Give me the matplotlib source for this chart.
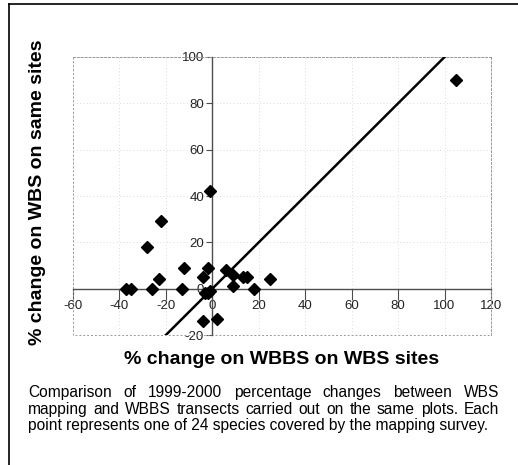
import matplotlib
matplotlib.use("Agg")
import matplotlib.pyplot as plt
from matplotlib.lines import Line2D

plt.rcParams['font.family'] = ['Liberation Sans', 'DejaVu Sans']
plt.rcParams['axes.unicode_minus'] = False

# % change on WBBS (x) vs % change on WBS mapping (y), one point per species
wbbs_change = [-1, -22, -28, -12, -23, -37, -35, -26, -13, -4, -2, -3,
               -1, -4, 2, 6, 9, 9, 13, 15, 18, 25, -2, 105]
wbs_change = [42, 29, 18, 9, 4, 0, 0, 0, 0, 5, 9, -2,
              -1, -14, -13, 8, 6, 1, 5, 5, 0, 4, -2, 90]
line_x = [-20, 100]  # line of equality
line_y = [-20, 100]
x_ticks = [-60, -40, -20, 0, 20, 40, 60, 80, 100, 120]
y_ticks = [-20, 0, 20, 40, 60, 80, 100]
caption = ["Comparison of 1999-2000 percentage changes between WBS",
           "mapping and WBBS transects carried out on the same plots.  Each",
           "point represents one of 24 species covered by the mapping survey."]

W, H = 518, 465
fig = plt.figure(figsize=(W / 100, H / 100), dpi=100)
ax = fig.add_axes([73 / W, 1 - 335 / H, (491 - 73) / W, (335 - 57) / H])

ax.set_xlim(-60, 120)
ax.set_ylim(-20, 100)
ax.grid(True, color='0.82', linestyle=(0, (1, 3)), linewidth=0.6)
ax.set_axisbelow(True)

ax.spines['left'].set_position(('data', 0))
ax.spines['bottom'].set_position(('data', 0))
for s in ['left', 'bottom']:
    ax.spines[s].set_color('0.3')
    ax.spines[s].set_linewidth(1.0)
for s in ['top', 'right']:
    ax.spines[s].set_color('0.6')
    ax.spines[s].set_linestyle((0, (2, 2)))
    ax.spines[s].set_linewidth(0.7)
# dotted frame on the far left / bottom of the plot area
ax.plot([-60, -60, 120], [100, -20, -20], color='0.6', lw=0.7,
        ls=(0, (2, 2)), clip_on=False, zorder=1)

ax.set_xticks(x_ticks)
ax.set_yticks(y_ticks)
ax.tick_params(axis='x', direction='out', length=8, width=0.8, color='0.3',
               pad=0, labelsize=9.5, labelcolor='#222')
ax.tick_params(axis='y', direction='out', length=4, width=0.8, color='0.3',
               pad=2, labelsize=9.5, labelcolor='#222')

ax.plot(line_x, line_y, color='black', lw=1.8, zorder=3)
ax.plot(wbbs_change, wbs_change, 'D', color='black', markersize=6, zorder=4)

fig.text(38 / W, 1 - 192 / H, '% change on WBS on same sites', rotation=90,
         ha='center', va='center', fontsize=14, fontweight='bold')
fig.text(282 / W, 1 - 360 / H, '% change on WBBS on WBS sites',
         ha='center', va='center', fontsize=14, fontweight='bold')

# justified caption, words placed on a common baseline
renderer = fig.canvas.get_renderer()
left, right = 28, 499
baselines = [397, 414, 430]
cap_size = 11.2
for i, line in enumerate(caption):
    words = line.split()
    y = 1 - baselines[i] / H
    if i == len(caption) - 1:
        fig.text(left / W, y, line, ha='left', va='baseline', fontsize=cap_size)
        continue
    texts = [fig.text(0, y, w, ha='left', va='baseline', fontsize=cap_size) for w in words]
    widths = [t.get_window_extent(renderer).width for t in texts]
    gap = (right - left - sum(widths)) / (len(words) - 1)
    x = left
    for t, w in zip(texts, widths):
        t.set_x(x / W)
        x += w + gap

# page border (top and left)
fig.add_artist(Line2D([9 / W, 1], [1 - 4 / H, 1 - 4 / H], color='black', lw=1.2))
fig.add_artist(Line2D([9 / W, 9 / W], [0, 1 - 4 / H], color='black', lw=1.2))

fig.savefig('out.png', dpi=100)
